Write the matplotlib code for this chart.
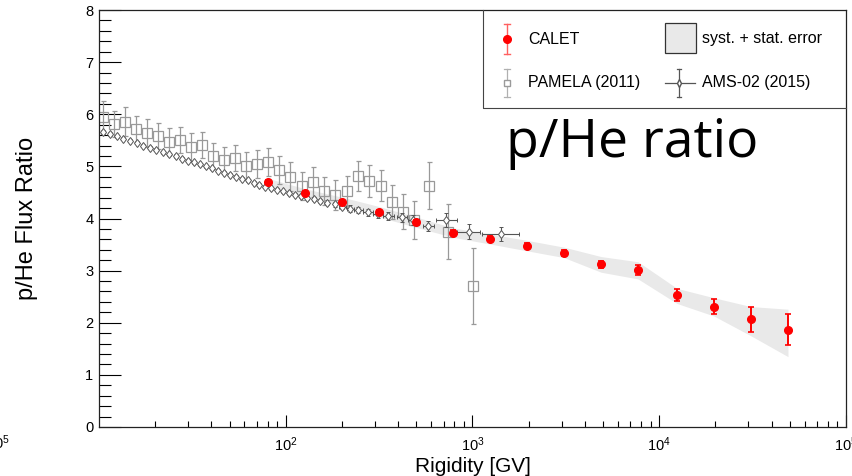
import math
import matplotlib
matplotlib.use('Agg')
import matplotlib.pyplot as plt
from matplotlib.ticker import MultipleLocator, LogLocator, NullFormatter, FixedLocator, FuncFormatter
from matplotlib.lines import Line2D
from matplotlib.patches import Rectangle

plt.rcParams['font.family'] = ['Liberation Sans', 'DejaVu Sans']
plt.rcParams['mathtext.fontset'] = 'custom'
plt.rcParams['mathtext.rm'] = 'Liberation Sans'
plt.rcParams['mathtext.it'] = 'Liberation Sans'

# ---------------- data ----------------
calet_x = [80.4, 127, 200, 316, 498, 786, 1242, 1960, 3090, 4877, 7700, 12440, 19600, 30960, 48900]
calet_y = [4.70, 4.49, 4.32, 4.13, 3.93, 3.73, 3.61, 3.48, 3.34, 3.12, 3.01, 2.53, 2.31, 2.07, 1.87]
calet_err = [0.04, 0.04, 0.04, 0.04, 0.05, 0.05, 0.05, 0.05, 0.05, 0.07, 0.09, 0.12, 0.15, 0.24, 0.30]
band_hi = [4.77, 4.57, 4.41, 4.23, 4.03, 3.82, 3.70, 3.58, 3.45, 3.27, 3.17, 2.66, 2.48, 2.31, 2.26]
band_lo = [4.64, 4.42, 4.23, 4.03, 3.83, 3.64, 3.51, 3.38, 3.25, 2.97, 2.84, 2.37, 2.13, 1.75, 1.35]

pamela_x = [10.5, 12.0, 13.8, 15.8, 18.1, 20.7, 23.7, 27.1, 31.1, 35.6, 40.8, 46.7, 53.5, 61.2,
            70.2, 80.4, 92.0, 105, 122, 140, 160, 184, 213, 244, 279, 324, 371, 425, 486, 585, 739, 1006]
pamela_y = [5.95, 5.82, 5.86, 5.72, 5.64, 5.59, 5.47, 5.51, 5.37, 5.41, 5.20, 5.12, 5.16, 5.01,
            5.05, 5.09, 4.93, 4.80, 4.63, 4.70, 4.53, 4.45, 4.53, 4.82, 4.72, 4.63, 4.32, 4.13, 3.97, 4.63, 3.75, 2.71]
pamela_err = [0.30, 0.25, 0.28, 0.25, 0.27, 0.25, 0.26, 0.25, 0.27, 0.25, 0.25, 0.26, 0.25, 0.26,
              0.27, 0.27, 0.27, 0.28, 0.27, 0.28, 0.27, 0.28, 0.29, 0.29, 0.30, 0.30, 0.32, 0.34, 0.36, 0.45, 0.52, 0.73]

ams_x = [10.5, 11.5, 12.5, 13.5, 14.7, 15.9, 17.3, 18.7, 20.3, 22.0, 23.7, 25.7, 27.7, 29.9, 32.3,
         34.8, 37.5, 40.4, 43.5, 46.8, 50.3, 54.1, 58.2, 62.5, 67.2, 72.3, 77.6, 83.4, 89.7, 96.4,
         104, 112, 120, 130, 141, 153, 167, 183, 201, 222, 245, 275, 310, 354, 418, 480, 580, 721, 955, 1416]
ams_y = [5.66, 5.62, 5.58, 5.53, 5.49, 5.45, 5.40, 5.36, 5.32, 5.27, 5.23, 5.20, 5.15, 5.11, 5.08,
         5.04, 5.00, 4.96, 4.92, 4.88, 4.84, 4.80, 4.76, 4.73, 4.69, 4.65, 4.61, 4.58, 4.55, 4.52,
         4.49, 4.46, 4.43, 4.40, 4.37, 4.33, 4.30, 4.27, 4.23, 4.19, 4.16, 4.12, 4.08, 4.05, 4.02,
         3.97, 3.86, 3.97, 3.75, 3.70]
ams_err = [0.03] * 30 + [0.03, 0.03, 0.04, 0.04, 0.04, 0.04, 0.05, 0.05, 0.05, 0.06, 0.06, 0.07,
                         0.07, 0.08, 0.08, 0.09, 0.10, 0.13, 0.135, 0.13]
ams_xlo = [0] * 38 + [9, 10, 12, 15, 18, 22, 26, 30, 40, 83, 133, 297]
ams_xhi = [0] * 38 + [10, 11, 14, 17, 20, 25, 30, 36, 45, 105, 142, 363]

x_ticks = [1e2, 1e3, 1e4, 1e5]
y_ticks = [0, 1, 2, 3, 4, 5, 6, 7, 8]

# ---------------- figure ----------------
W, H = 853, 476
fig = plt.figure(figsize=(W / 100, H / 100), dpi=100)
ax = fig.add_axes([99 / W, 1 - 427 / H, (846 - 99) / W, (427 - 10) / H])

ax.fill_between(calet_x, band_lo, band_hi, color='#e9e9e9', lw=0, zorder=1)
ax.errorbar(pamela_x, pamela_y, yerr=pamela_err, fmt='s', ms=7.5, mfc='none', mec='#999999',
            mew=0.9, ecolor='#999999', elinewidth=0.9, capsize=1.8, capthick=0.9, zorder=2)
ax.errorbar(ams_x, ams_y, yerr=ams_err, xerr=[ams_xlo, ams_xhi], fmt='d', ms=4.5, mfc='white',
            mec='#555555', mew=0.7, ecolor='#555555', elinewidth=0.8, capsize=1.5, capthick=0.8, zorder=3)
ax.errorbar(calet_x, calet_y, yerr=calet_err, fmt='o', ms=5.5, color='red', ecolor='red',
            elinewidth=1.4, capsize=2, capthick=1.2, zorder=4)

ax.set_xscale('log')
ax.set_xlim(10, 1e5)
ax.set_ylim(0, 8)
ax.xaxis.set_major_locator(FixedLocator(x_ticks))
ax.xaxis.set_major_formatter(FuncFormatter(lambda v, p: r'$\mathregular{10^{%d}}$' % round(math.log10(v))))
ax.xaxis.set_minor_locator(LogLocator(base=10, subs=[2, 3, 4, 5, 6, 7, 8, 9], numticks=20))
ax.xaxis.set_minor_formatter(NullFormatter())
ax.yaxis.set_major_locator(FixedLocator(y_ticks))
ax.yaxis.set_minor_locator(MultipleLocator(0.2))

ax.tick_params(axis='both', which='both', direction='in', top=False, right=False, width=0.8, color='black')
ax.tick_params(axis='y', which='major', length=16, labelsize=10.5, pad=4)
ax.tick_params(axis='y', which='minor', length=8.5)
ax.tick_params(axis='x', which='major', length=8.5, labelsize=10.5, pad=6)
ax.tick_params(axis='x', which='minor', length=4)
for s in ax.spines.values():
    s.set_linewidth(0.9)
    s.set_color('#222222')

ax.set_xlabel('Rigidity [GV]', fontsize=15)
ax.xaxis.set_label_coords(0.5, -0.071)
ax.set_ylabel('p/He Flux Ratio', fontsize=17)
ax.yaxis.set_label_coords(-0.082, 0.5)


def P(px, py):
    return (px / W, 1 - py / H)


# legend (drawn in figure pixel coordinates)
tf = fig.transFigure
x0, y0 = P(483, 10)
x1, y1 = P(846, 108)
fig.add_artist(Line2D([x0, x0, x1], [y0, y1, y1], transform=tf, color='#444444', lw=0.8))

cx, cy = P(507, 39)
fig.add_artist(Line2D([cx, cx], [P(0, 24)[1], P(0, 54)[1]], transform=tf, color='#ff6060', lw=1.0))
for yy in (24, 54):
    fig.add_artist(Line2D([P(504, 0)[0], P(510, 0)[0]], [P(0, yy)[1]] * 2, transform=tf, color='#ff6060', lw=1.0))
fig.add_artist(Line2D([cx], [cy], transform=tf, marker='o', ms=5.5, color='red', lw=0))
fig.text(*P(528, 39), 'CALET', fontsize=11.5, va='center', ha='left')

px_, py_ = P(507, 83)
fig.add_artist(Line2D([px_, px_], [P(0, 69)[1], P(0, 97)[1]], transform=tf, color='#b0b0b0', lw=0.9))
for yy in (69, 97):
    fig.add_artist(Line2D([P(504, 0)[0], P(510, 0)[0]], [P(0, yy)[1]] * 2, transform=tf, color='#b0b0b0', lw=0.9))
fig.add_artist(Line2D([px_], [py_], transform=tf, marker='s', ms=5, mfc='white', mec='#9a9a9a', lw=0))
fig.text(*P(528, 83), 'PAMELA (2011)', fontsize=11.5, va='center', ha='left')

bx0, by0 = P(665, 53)
bx1, by1 = P(696, 23)
fig.add_artist(Rectangle((bx0, by0), bx1 - bx0, by1 - by0, transform=tf, facecolor='#e9e9e9', edgecolor='#333333', lw=0.9))
fig.text(*P(702, 39), 'syst. + stat. error', fontsize=11.5, va='center', ha='left')

ax_, ay_ = P(679, 83)
fig.add_artist(Line2D([P(665, 0)[0], P(695, 0)[0]], [ay_, ay_], transform=tf, color='#555555', lw=0.9))
fig.add_artist(Line2D([ax_, ax_], [P(0, 69)[1], P(0, 97)[1]], transform=tf, color='#555555', lw=0.9))
for yy in (69, 97):
    fig.add_artist(Line2D([P(677, 0)[0], P(681, 0)[0]], [P(0, yy)[1]] * 2, transform=tf, color='#555555', lw=0.9))
fig.add_artist(Line2D([ax_], [ay_], transform=tf, marker='d', ms=4, mfc='white', mec='#555555', lw=0))
fig.text(*P(702, 83), 'AMS-02 (2015)', fontsize=11.5, va='center', ha='left')

# slide overlay title
fig.text(*P(506, 157), 'p/He ratio', fontsize=38.5, family=['Open Sans', 'DejaVu Sans'], ha='left', va='baseline')

# partially visible tick label from a neighbouring panel
fig.text(*P(-14, 443), r'$\mathregular{10^{5}}$', fontsize=10.5, ha='left', va='center')

fig.savefig('out.png', dpi=100)
